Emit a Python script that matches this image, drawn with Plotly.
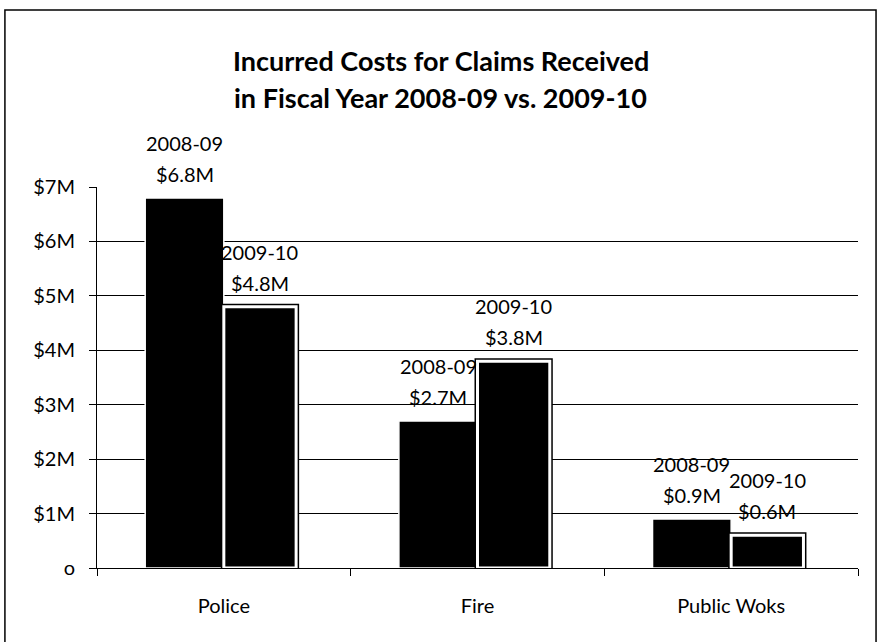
import plotly.graph_objects as go

# Claim cost data (millions of dollars)
departments = ["Police", "Fire", "Public Woks"]
costs_2008_09 = [6.8, 2.7, 0.9]
costs_2009_10 = [4.8, 3.8, 0.6]
year_labels = ["2008-09", "2009-10"]
y_ticks = [0, 1, 2, 3, 4, 5, 6, 7]
y_tick_text = ["o", "$1M", "$2M", "$3M", "$4M", "$5M", "$6M", "$7M"]
title_lines = ["Incurred Costs for Claims Received",
               "in Fiscal Year 2008-09 vs. 2009-10"]

FONT = "Lato, Open Sans, sans-serif"

# bar geometry in category units
W_OLD, OFF_OLD = 0.31, -0.31
W_NEW, OFF_NEW = 0.285, 0.0
CAT_PX = 761 / 3  # pixels per category on the x axis

fig = go.Figure()

fig.add_trace(go.Bar(
    x=departments, y=costs_2008_09, name=year_labels[0],
    offset=OFF_OLD, width=W_OLD,
    marker=dict(color="black", line=dict(color="white", width=1.5)),
    hoverinfo="x+y",
))
# black backing gives the 2009-10 bars a dark outer rim
fig.add_trace(go.Bar(
    x=departments, y=costs_2009_10, showlegend=False, hoverinfo="skip",
    offset=OFF_NEW, width=W_NEW,
    marker=dict(color="black", line=dict(color="black", width=6)),
))
fig.add_trace(go.Bar(
    x=departments, y=costs_2009_10, name=year_labels[1],
    offset=OFF_NEW, width=W_NEW,
    marker=dict(color="black", line=dict(color="white", width=3)),
    hoverinfo="x+y",
))

# two-line value labels above each bar
annotations = []
for year, values, off, w in [(year_labels[0], costs_2008_09, OFF_OLD, W_OLD),
                             (year_labels[1], costs_2009_10, OFF_NEW, W_NEW)]:
    shift = (off + w / 2) * CAT_PX
    for dept, v in zip(departments, values):
        annotations.append(dict(
            x=dept, y=v, xref="x", yref="y", text=f"${v:.1f}M",
            showarrow=False, xshift=shift, yshift=24, yanchor="middle",
            font=dict(family=FONT, size=20, color="black"),
        ))
        annotations.append(dict(
            x=dept, y=v, xref="x", yref="y", text=year,
            showarrow=False, xshift=shift, yshift=55, yanchor="middle",
            font=dict(family=FONT, size=20, color="black"),
        ))

# chart title, two lines
for txt, ypos in zip(title_lines, [1.333, 1.236]):
    annotations.append(dict(
        x=0.452, y=ypos, xref="paper", yref="paper", text=f"<b>{txt}</b>",
        showarrow=False, xanchor="center", yanchor="middle",
        font=dict(family=FONT, size=27, color="black"),
    ))

fig.update_layout(
    width=881, height=642,
    barmode="overlay",
    showlegend=False,
    paper_bgcolor="white", plot_bgcolor="white",
    margin=dict(l=97, r=23, t=187, b=74),
    font=dict(family=FONT, size=20, color="black"),
    annotations=annotations,
    xaxis=dict(
        showline=True, linecolor="black", linewidth=1,
        ticks="outside", tickson="boundaries", ticklen=7, tickcolor="black",
        showgrid=False, tickfont=dict(size=20), ticklabelstandoff=20,
    ),
    yaxis=dict(
        range=[0, 7], tickvals=y_ticks, ticktext=y_tick_text,
        showline=True, linecolor="black", linewidth=1,
        ticks="outside", ticklen=7, tickcolor="black",
        showgrid=True, gridcolor="black", gridwidth=1,
        zeroline=False, tickfont=dict(size=20), ticklabelstandoff=10,
    ),
    shapes=[dict(
        type="rect", xref="paper", yref="paper",
        x0=-0.121, x1=1.0237, y0=-0.21, y1=1.4646,
        line=dict(color="black", width=1.5), fillcolor="rgba(0,0,0,0)",
        layer="below",
    )],
)

fig.write_html("out.html")
